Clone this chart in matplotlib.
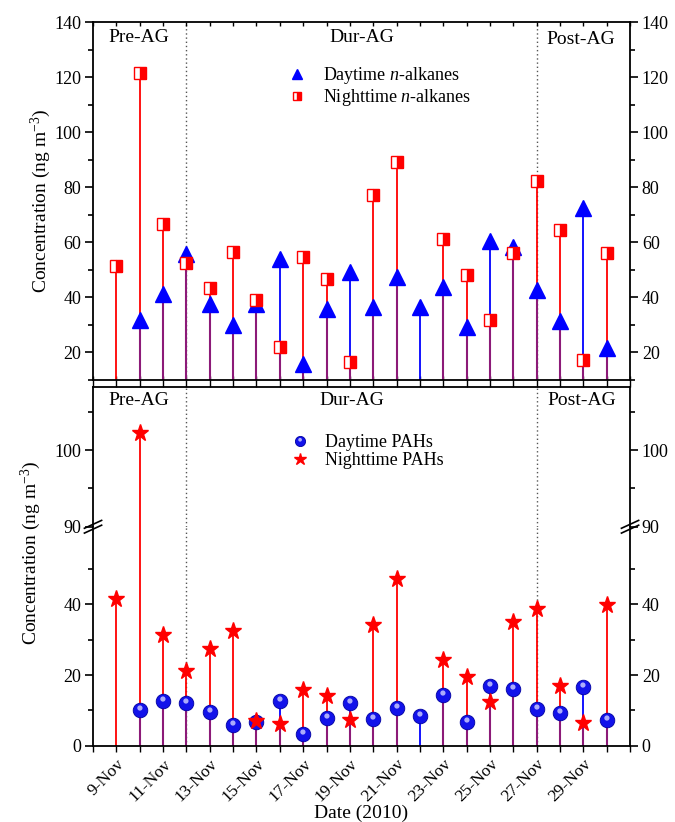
import matplotlib
matplotlib.use("Agg")
import matplotlib.pyplot as plt
import numpy as np
from matplotlib.markers import MarkerStyle
from matplotlib.transforms import Affine2D
from matplotlib.ticker import MultipleLocator, FixedLocator

plt.rcParams.update({
    "font.family": "serif",
    "font.serif": ["Liberation Serif", "DejaVu Serif"],
    "mathtext.fontset": "custom",
    "mathtext.rm": "Liberation Serif",
    "mathtext.it": "Liberation Serif:italic",
    "axes.linewidth": 1.3,
})

# ── Data ──────────────────────────────────────────────────────────────────
nan = np.nan
days = np.arange(9, 31)  # 9-Nov .. 30-Nov 2010
tick_days = np.arange(9, 30, 2)
tick_labels = [f"{d}-Nov" for d in tick_days]
period_bounds = [12, 27]

alk_day = [nan, 31.5, 41.0, 55.8, 37.5, 30.0, 37.5, 53.8, 15.6, 35.7, 49.2,
           36.2, 47.3, 36.4, 43.8, 29.2, 60.2, 58.2, 42.6, 31.3, 72.5, 21.5]
alk_night = [51.2, 121.3, 66.5, 52.5, 43.3, 56.4, 38.8, 21.8, 54.6, 46.4, 16.3,
             77.0, 89.2, nan, 61.2, 48.1, 31.8, 56.1, 82.1, 64.5, 17.0, 56.1]
pah_day = [nan, 10.1, 12.7, 12.2, 9.6, 6.0, 6.6, 12.7, 3.3, 7.9, 12.0,
           7.6, 10.6, 8.4, 14.3, 6.8, 17.0, 16.2, 10.3, 9.2, 16.7, 7.3]
pah_night = [41.5, 102.2, 31.3, 21.1, 27.5, 32.5, 7.1, 6.1, 15.8, 14.1, 7.3,
             34.1, 47.3, nan, 24.4, 19.5, 12.4, 35.1, 38.6, 16.9, 6.3, 39.8]

BLUE = "#0000ff"
RED = "#ff0000"
PURPLE = "#8c1a78"
DOT = "#555555"
FS = 13        # tick labels
FS_LAB = 14    # axis + period labels
FS_LEG = 13


def stems(ax, day, night):
    day = np.asarray(day)
    night = np.asarray(night)
    md = ~np.isnan(day)
    mn = ~np.isnan(night)
    both = md & mn
    ax.vlines(days[md], 0, day[md], color=BLUE, lw=1.3, zorder=2)
    ax.vlines(days[mn], 0, night[mn], color=RED, lw=1.3, zorder=2)
    ax.vlines(days[both], 0, np.minimum(day, night)[both], color=PURPLE,
              lw=1.5, zorder=2.5)


def style_axis(ax):
    ax.set_xlim(8, 31)
    ax.xaxis.set_major_locator(FixedLocator(tick_days))
    ax.xaxis.set_minor_locator(MultipleLocator(1))
    ax.tick_params(axis="y", which="both", left=True, right=True,
                   labelleft=True, labelright=True, direction="out",
                   labelsize=FS, width=1.2, pad=2.5)
    ax.tick_params(axis="y", which="major", length=6)
    ax.tick_params(axis="y", which="minor", length=3.5)
    for a in period_bounds:
        ax.axvline(a, color=DOT, lw=1.0, ls=(0, (1, 2)), zorder=1)


ball = MarkerStyle("o")
shine = MarkerStyle("o", transform=Affine2D().scale(0.36).translate(-0.04, 0.17))


def balls(ax, x, y, ms=10.5):
    a, = ax.plot(x, y, ls="none", marker=ball, ms=ms, mfc="#1212ea",
                 mec="#0000a0", mew=0.6, zorder=4)
    b, = ax.plot(x, y, ls="none", marker=shine, ms=ms, mfc="#c8c8ff",
                 mec="none", alpha=0.85, zorder=4.1)
    return a, b


fig = plt.figure(figsize=(6.75, 8.22), dpi=100)
ax_top = fig.add_axes([0.1378, 0.5383, 0.7956, 0.4349])
ax_hi = fig.add_axes([0.1378, 0.3592, 0.7956, 0.1696])
ax_lo = fig.add_axes([0.1378, 0.0928, 0.7956, 0.2664])

# ── Top: n-alkanes ────────────────────────────────────────────────────────
stems(ax_top, alk_day, alk_night)
h1, = ax_top.plot(days, alk_day, ls="none", marker="^", ms=11, color=BLUE,
                  zorder=4, label="Daytime $n$-alkanes")
h2, = ax_top.plot(days, alk_night, ls="none", marker="s", ms=8.3,
                  fillstyle="right", mfc=RED, mfcalt="white", mec=RED,
                  mew=1.0, zorder=5, label="Nighttime $n$-alkanes")
style_axis(ax_top)
ax_top.set_ylim(10, 140)
ax_top.yaxis.set_major_locator(FixedLocator(np.arange(20, 141, 20)))
ax_top.yaxis.set_minor_locator(FixedLocator(np.arange(10, 131, 20)))
ax_top.tick_params(axis="x", which="both", top=True, bottom=True,
                   labelbottom=False, width=1.0)
ax_top.tick_params(axis="x", which="both", bottom=True, direction="out", length=5)
ax_top.tick_params(axis="x", which="both", top=True, direction="in", length=3)
ax_top.set_ylabel("Concentration (ng m$^{-3}$)", fontsize=FS_LAB, labelpad=1)
ax_top.legend(handles=[h1, h2], loc="upper left", bbox_to_anchor=(0.33, 0.925),
              frameon=False, fontsize=FS_LEG, markerscale=0.7, handlelength=1.2,
              handletextpad=0.8, labelspacing=0.05)

for txt, x, y in [("Pre-AG", 0.086, 0.957), ("Dur-AG", 0.501, 0.957),
                  ("Post-AG", 0.909, 0.95)]:
    ax_top.text(x, y, txt, transform=ax_top.transAxes, ha="center",
                va="center", fontsize=FS_LAB)

# ── Bottom: PAHs (broken y axis) ──────────────────────────────────────────
for ax in (ax_hi, ax_lo):
    stems(ax, pah_day, pah_night)
    hb = balls(ax, days, pah_day)
    hs, = ax.plot(days, pah_night, ls="none", marker="*", ms=12.5, color=RED,
                  zorder=5)
    style_axis(ax)

ax_hi.set_ylim(90, 108.2)
ax_hi.yaxis.set_major_locator(FixedLocator([90, 100]))
ax_hi.yaxis.set_minor_locator(FixedLocator([95, 105]))
ax_hi.spines["bottom"].set_visible(False)
ax_hi.tick_params(axis="x", which="both", bottom=False, labelbottom=False,
                  top=True, direction="out", length=5, width=1.0)

ax_lo.set_ylim(0, 62)
ax_lo.yaxis.set_major_locator(FixedLocator([0, 20, 40]))
ax_lo.yaxis.set_minor_locator(FixedLocator([10, 30, 50]))
ax_lo.spines["top"].set_visible(False)
ax_lo.tick_params(axis="x", which="both", top=False, direction="out",
                  length=4, width=1.0, labelsize=12.5)
ax_lo.set_xticklabels(tick_labels, rotation=45, ha="right",
                      rotation_mode="anchor")
ax_lo.set_xlabel("Date (2010)", fontsize=FS_LAB, labelpad=0)

# break marks on both spines
for xb in (0, 1):
    for off in (-0.011, 0.011):
        ax_lo.plot([xb - 0.016, xb + 0.016], [1 + off - 0.018, 1 + off + 0.018],
                   transform=ax_lo.transAxes, color="black", lw=1.2,
                   clip_on=False, zorder=6)

fig.text(0.045, 1 - 553 / 822, "Concentration (ng m$^{-3}$)", rotation=90,
         ha="center", va="center", fontsize=FS_LAB)

ax_hi.legend(handles=[hb, hs], labels=["Daytime PAHs", "Nighttime PAHs"],
             loc="upper left", bbox_to_anchor=(0.335, 0.78), frameon=False,
             fontsize=FS_LEG, markerscale=0.7, handlelength=1.2,
             handletextpad=0.8, labelspacing=0.05)

for txt, x in [("Pre-AG", 0.086), ("Dur-AG", 0.482), ("Post-AG", 0.91)]:
    ax_hi.text(x, 0.905, txt, transform=ax_hi.transAxes, ha="center",
               va="center", fontsize=FS_LAB)

fig.savefig("out.png", dpi=100, facecolor="white")
